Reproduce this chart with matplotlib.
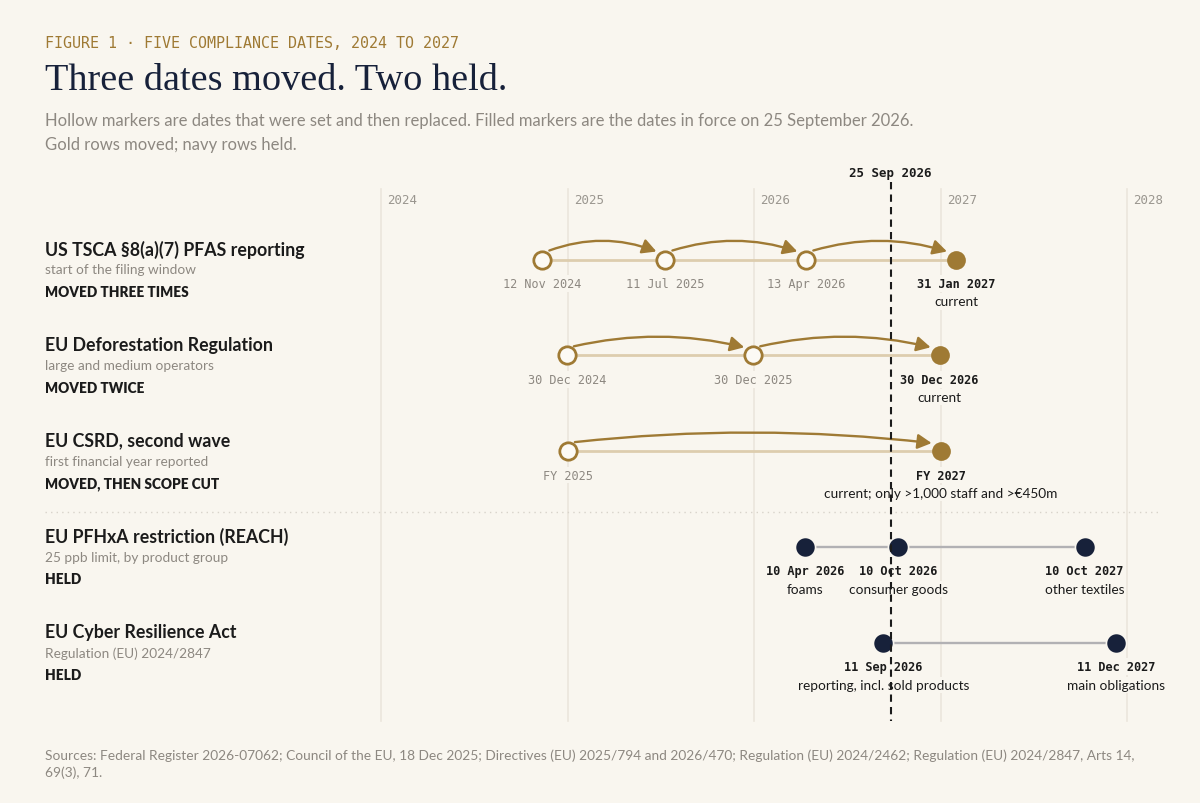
import numpy as np
import matplotlib
matplotlib.use("Agg")
import matplotlib.pyplot as plt
import matplotlib.dates as mdates
from matplotlib.patches import FancyArrowPatch

# ---------------- data ----------------
row_titles = ["US TSCA §8(a)(7) PFAS reporting", "EU Deforestation Regulation",
              "EU CSRD, second wave", "EU PFHxA restriction (REACH)", "EU Cyber Resilience Act"]
row_subs = ["start of the filing window", "large and medium operators",
            "first financial year reported", "25 ppb limit, by product group",
            "Regulation (EU) 2024/2847"]
row_status = ["MOVED THREE TIMES", "MOVED TWICE", "MOVED, THEN SCOPE CUT", "HELD", "HELD"]
row_moved = [True, True, True, False, False]

row_dates = [
    ["2024-11-12", "2025-07-11", "2026-04-13", "2027-01-31"],
    ["2024-12-30", "2025-12-30", "2026-12-30"],
    ["2025-01-01", "2027-01-01"],
    ["2026-04-10", "2026-10-10", "2027-10-10"],
    ["2026-09-11", "2027-12-11"],
]
row_date_labels = [
    ["12 Nov 2024", "11 Jul 2025", "13 Apr 2026", "31 Jan 2027"],
    ["30 Dec 2024", "30 Dec 2025", "30 Dec 2026"],
    ["FY 2025", "FY 2027"],
    ["10 Apr 2026", "10 Oct 2026", "10 Oct 2027"],
    ["11 Sep 2026", "11 Dec 2027"],
]
row_notes = [
    ["", "", "", "current"],
    ["", "", "current"],
    ["", "current; only >1,000 staff and >€450m"],
    ["foams", "consumer goods", "other textiles"],
    ["reporting, incl. sold products", "main obligations"],
]
year_ticks = ["2024", "2025", "2026", "2027", "2028"]
today = "2026-09-25"
today_label = "25 Sep 2026"

# ---------------- style ----------------
BG = "#f9f6ef"
GOLD = "#9f7a34"
GOLD_LIGHT = "#ddcdae"
NAVY = "#17213a"
GRAY_LINE = "#b2b1b4"
GRID = "#ebe6dc"
TXT = "#1b1b1b"
MUTED = "#8d8881"
YEARC = "#9a968f"
SANS = ["Lato", "DejaVu Sans"]
MONO = ["DejaVu Sans Mono"]
SERIF = ["Liberation Serif", "DejaVu Serif"]

W, H = 1200, 804
fig = plt.figure(figsize=(12, 8.04), dpi=100, facecolor=BG)
ax = fig.add_axes([0, 0, 1, 1])
ax.set_facecolor(BG)
ax.axis("off")

def num(d):
    return mdates.date2num(np.datetime64(d))

d0 = num(year_ticks[0] + "-01-01")
d1 = num(year_ticks[-1] + "-01-01")
X0, X1 = 381, 1127  # pixel positions of first/last year gridline
ppd = (X1 - X0) / (d1 - d0)
xmin = d0 - X0 / ppd
ax.set_xlim(xmin, d1 + (W - X1) / ppd)
ax.set_ylim(H, 0)

def px(n):
    return n / ppd

def ftxt(x, y, s, **kw):
    fig.text(x / W, 1 - y / H, s, **kw)

# header
ftxt(45, 43, "FIGURE 1 · FIVE COMPLIANCE DATES, 2024 TO 2027", family=MONO, fontsize=10.8,
     color=GOLD, va="center", ha="left")
ftxt(45, 81, "Three dates moved. Two held.", family=SERIF, fontsize=27.5, color=NAVY,
     va="center", ha="left")
ftxt(45, 121, "Hollow markers are dates that were set and then replaced. Filled markers are the dates in force on 25 September 2026.",
     family=SANS, fontsize=12, color=MUTED, va="center", ha="left")
ftxt(45, 145, "Gold rows moved; navy rows held.", family=SANS, fontsize=12, color=MUTED,
     va="center", ha="left")

# year gridlines
for yt in year_ticks:
    xd = num(yt + "-01-01")
    ax.plot([xd, xd], [190, 722], color=GRID, lw=1.2, zorder=0)
    ax.text(xd + px(6), 201, yt, family=MONO, fontsize=9, color=YEARC, va="center", ha="left")

# today line
td = num(today)
ax.plot([td, td], [183, 722], color=TXT, lw=1.5, ls=(0, (3.5, 2.5)), zorder=8)
ax.text(td, 174, today_label, family=MONO, fontsize=9, fontweight="bold", color=TXT,
        va="center", ha="center")

# separator between moved and held
ax.plot([xmin + px(45), xmin + px(1158)], [513, 513],
        color="#d8d3ca", lw=1, ls=(0, (1, 3)), zorder=0)

row_y0, row_dy = 260.5, 95.8
lab_bbox = dict(boxstyle="square,pad=0.15", fc=BG, ec="none")
for i, title in enumerate(row_titles):
    y = row_y0 + row_dy * i
    ftxt(45, y - 11, title, family=SANS, fontsize=12.8, fontweight="bold", color=TXT,
         va="center", ha="left")
    ftxt(45, y + 10, row_subs[i], family=SANS, fontsize=9.8, color=MUTED, va="center", ha="left")
    ftxt(45, y + 32, row_status[i], family=SANS, fontsize=9.8, fontweight="heavy", color=TXT,
         va="center", ha="left")

    xs = [num(d) for d in row_dates[i]]
    moved = row_moved[i]
    ax.plot([xs[0], xs[-1]], [y, y], color=GOLD_LIGHT if moved else GRAY_LINE,
            lw=2.0 if moved else 1.7, zorder=2, solid_capstyle="butt")
    n = len(xs)
    for j, xd in enumerate(xs):
        last = j == n - 1
        if moved:
            if last:
                ax.plot(xd, y, "o", ms=13.5, mfc=GOLD, mec=GOLD, mew=0, zorder=5)
            else:
                ax.plot(xd, y, "o", ms=12.5, mfc="#fcfaf5", mec=GOLD, mew=2, zorder=5)
        else:
            ax.plot(xd, y, "o", ms=14.5, mfc=NAVY, mec=BG, mew=1.2, zorder=5)
        bold = (not moved) or last
        ax.text(xd, y + 24, row_date_labels[i][j], family=MONO, fontsize=8.6,
                fontweight="bold" if bold else "normal", color=TXT if bold else MUTED,
                va="center", ha="center", zorder=4, bbox=lab_bbox)
        if row_notes[i][j]:
            ax.text(xd, y + 42, row_notes[i][j], family=SANS, fontsize=9.8, color=TXT,
                    va="center", ha="center", zorder=4, bbox=lab_bbox)
    if moved:
        for j in range(n - 1):
            a = (xs[j] + px(7), y - 9)
            b = (xs[j + 1] - px(9), y - 8)
            L = (b[0] - a[0]) * ppd
            rad = -2 * 10 / L
            arr = FancyArrowPatch(a, b, connectionstyle=f"arc3,rad={rad}",
                                  arrowstyle="-|>,head_length=0.6,head_width=0.32",
                                  mutation_scale=14, color=GOLD, lw=1.7,
                                  shrinkA=0, shrinkB=0, zorder=6)
            ax.add_patch(arr)

# footer
ftxt(45, 756, "Sources: Federal Register 2026-07062; Council of the EU, 18 Dec 2025; Directives (EU) 2025/794 and 2026/470; Regulation (EU) 2024/2462; Regulation (EU) 2024/2847, Arts 14,",
     family=SANS, fontsize=9.9, color=MUTED, va="center", ha="left")
ftxt(45, 773, "69(3), 71.", family=SANS, fontsize=9.9, color=MUTED, va="center", ha="left")

fig.savefig("out.png", dpi=100, facecolor=BG)
